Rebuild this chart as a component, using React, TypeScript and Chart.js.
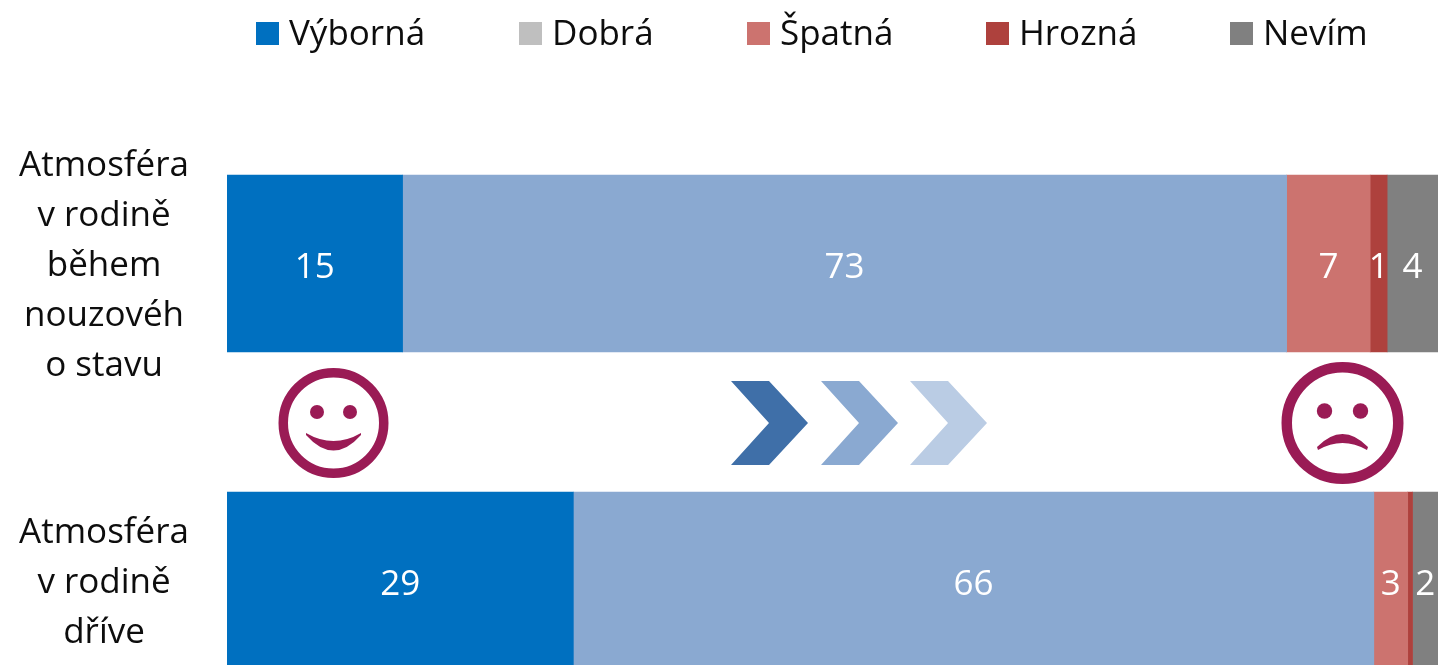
import React, { useEffect, useRef } from "react";
import { Chart, registerables } from "chart.js";

Chart.register(...registerables);

const categories = [
  ["Atmosféra", "v rodině", "během", "nouzovéh", "o stavu"],
  ["Atmosféra", "v rodině", "dříve"],
];
const seriesNames = ["Výborná", "Dobrá", "Špatná", "Hrozná", "Nevím"];
const vyborna = [14.5, 28.6];
const dobra = [73, 66.1];
const spatna = [6.9, 2.8];
const hrozna = [1.4, 0.4];
const nevim = [4.2, 2.1];
const seriesValues = [vyborna, dobra, spatna, hrozna, nevim];
const vybornaLabels = ["15", "29"];
const dobraLabels = ["73", "66"];
const spatnaLabels = ["7", "3"];
const hroznaLabels = ["1", ""];
const nevimLabels = ["4", "2"];
const seriesLabels = [vybornaLabels, dobraLabels, spatnaLabels, hroznaLabels, nevimLabels];
const barColors = ["#0070C0", "#8AA9D1", "#CC736F", "#AE413D", "#808080"];
const legendColors = ["#0070C0", "#BFBFBF", "#CC736F", "#AE413D", "#808080"];

const FONT = '"Open Sans", sans-serif';
const FONT_SIZE = 35;
const MAUVE = "#9A1B55";

const valueLabels = {
  id: "valueLabels",
  afterDatasetsDraw(chart: any) {
    const ctx = chart.ctx;
    ctx.save();
    ctx.font = `${FONT_SIZE}px ${FONT}`;
    ctx.fillStyle = "#FFFFFF";
    ctx.textAlign = "center";
    ctx.textBaseline = "middle";
    seriesLabels.forEach((labels, d) => {
      chart.getDatasetMeta(d).data.forEach((bar: any, i: number) => {
        if (labels[i]) {
          const c = bar.getCenterPoint();
          ctx.fillText(labels[i], c.x, c.y + 5);
        }
      });
    });
    ctx.restore();
  },
};

const legendRow = {
  id: "legendRow",
  afterDraw(chart: any) {
    const ctx = chart.ctx;
    ctx.save();
    ctx.font = `${FONT_SIZE}px ${FONT}`;
    ctx.textBaseline = "middle";
    ctx.textAlign = "left";
    const starts = [256, 519, 747, 986, 1230];
    seriesNames.forEach((name, i) => {
      ctx.fillStyle = legendColors[i];
      ctx.fillRect(starts[i], 22, 23, 23);
      ctx.fillStyle = "#0D0D0D";
      ctx.fillText(name, starts[i] + 33, 35);
    });
    ctx.restore();
  },
};

function chevron(ctx: CanvasRenderingContext2D, x: number, color: string) {
  ctx.fillStyle = color;
  ctx.beginPath();
  ctx.moveTo(x, 381);
  ctx.lineTo(x + 38, 381);
  ctx.lineTo(x + 77, 423);
  ctx.lineTo(x + 38, 465);
  ctx.lineTo(x, 465);
  ctx.lineTo(x + 38, 423);
  ctx.closePath();
  ctx.fill();
}

function face(ctx: CanvasRenderingContext2D, cx: number, r: number, sw: number, eyeDx: number, eyeR: number, eyeY: number) {
  ctx.strokeStyle = MAUVE;
  ctx.fillStyle = MAUVE;
  ctx.lineWidth = sw;
  ctx.beginPath();
  ctx.arc(cx, 423, r - sw / 2, 0, Math.PI * 2);
  ctx.stroke();
  for (const s of [-1, 1]) {
    ctx.beginPath();
    ctx.arc(cx + s * eyeDx, eyeY, eyeR, 0, Math.PI * 2);
    ctx.fill();
  }
}

const decorations = {
  id: "decorations",
  afterDraw(chart: any) {
    const ctx: CanvasRenderingContext2D = chart.ctx;
    ctx.save();
    chevron(ctx, 731, "#3F6FA8");
    chevron(ctx, 821, "#8AA9D1");
    chevron(ctx, 910, "#BACCE4");

    face(ctx, 333.5, 55, 9.5, 16.5, 7, 412);
    ctx.beginPath();
    ctx.moveTo(306, 433);
    ctx.quadraticCurveTo(333.5, 449, 361, 433);
    ctx.lineTo(361, 435);
    ctx.quadraticCurveTo(333.5, 466, 306, 435);
    ctx.closePath();
    ctx.fill();

    face(ctx, 1342.5, 61, 10.5, 18, 7.7, 411);
    ctx.beginPath();
    ctx.moveTo(1317, 447);
    ctx.quadraticCurveTo(1342.5, 421, 1368, 447);
    ctx.lineTo(1367, 450);
    ctx.quadraticCurveTo(1342.5, 436, 1318, 450);
    ctx.closePath();
    ctx.fill();
    ctx.restore();
  },
};

export default function App() {
  const ref = useRef<HTMLCanvasElement>(null);
  useEffect(() => {
    const chart = new Chart(ref.current!, {
      type: "bar",
      data: {
        labels: categories,
        datasets: seriesNames.map((name, i) => ({
          label: name,
          data: seriesValues[i],
          backgroundColor: barColors[i],
          borderWidth: 0,
          barThickness: 177,
        })),
      },
      options: {
        indexAxis: "y",
        animation: false,
        responsive: false,
        layout: { padding: { top: 105, right: 5, bottom: 0, left: 0 } },
        plugins: { legend: { display: false }, tooltip: { enabled: false } },
        scales: {
          x: { stacked: true, min: 0, max: 100, display: false },
          y: {
            stacked: true,
            grid: { display: false, drawTicks: false },
            border: { display: false },
            afterFit(s: any) {
              s.width = 227;
              s.paddingTop = 0;
              s.paddingBottom = 0;
            },
            ticks: {
              autoSkip: false,
              crossAlign: "center",
              padding: 38,
              labelOffset: 3,
              color: "#0D0D0D",
              font: { family: FONT, size: FONT_SIZE, lineHeight: "50px" },
            },
          },
        },
      },
      plugins: [valueLabels, legendRow, decorations],
    } as any);
    return () => chart.destroy();
  }, []);
  return (
    <div style={{ position: "fixed", left: 0, top: 0, width: 1443, height: 665, overflow: "hidden", background: "#fff" }}>
      <canvas ref={ref} width={1443} height={739} style={{ display: "block", width: 1443, height: 739 }} />
    </div>
  );
}
